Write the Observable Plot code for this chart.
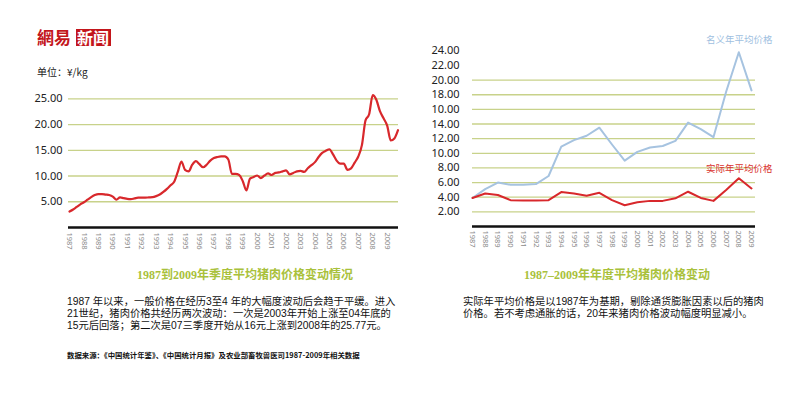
<!DOCTYPE html>
<html><head><meta charset="utf-8">
<script src="https://cdn.jsdelivr.net/npm/d3@7"></script>
<script src="https://cdn.jsdelivr.net/npm/@observablehq/plot@0.6"></script>
<style>
body{margin:0;background:#fff;}
#root{position:relative;width:800px;height:397px;overflow:hidden;background:#fff;font-family:"Noto Sans CJK SC",sans-serif;}
.abs{position:absolute;white-space:nowrap;}
svg{position:absolute;}
</style></head><body><div id="root"></div>
<script>
// ---- data ----
const yearLabels = ["1987","1988","1989","1990","1991","1992","1993","1994","1995","1996","1997","1998","1999","2000","2001","2002","2003","2004","2005","2006","2007","2008","2009"];
// quarterly average pork price, 1987Q1 .. 2009Q4 (yuan/kg)
const quarterlyPrice = [
  3.1, 3.5, 4.0, 4.5,
  4.9, 5.4, 5.9, 6.3,
  6.5, 6.5, 6.4, 6.3,
  6.0, 5.4, 5.85, 5.7,
  5.55, 5.5, 5.65, 5.8,
  5.8, 5.8, 5.85, 5.9,
  6.1, 6.4, 6.9, 7.5,
  8.2, 8.9, 10.8, 12.8,
  11.2, 10.9, 12.2, 12.9,
  12.3, 11.7, 12.2, 13.0,
  13.5, 13.7, 13.8, 13.8,
  13.2, 10.4, 10.4, 10.2,
  9.0, 7.2, 9.5, 9.8,
  10.1, 9.6, 10.1, 10.5,
  10.2, 10.6, 10.7, 10.9,
  11.1, 10.3, 10.6, 10.9,
  11.0, 10.8, 11.5, 12.1,
  12.7, 13.7, 14.5, 14.9,
  15.2, 14.2, 13.0, 12.4,
  12.4, 11.2, 11.5, 12.6,
  13.8, 16.0, 20.8, 22.0,
  25.7, 24.8, 22.6, 21.2,
  19.8, 16.9, 17.3, 18.9
];
// yearly nominal and real (1987 base) average price
const nominalPrice = [3.9, 5.1, 6.0, 5.7, 5.7, 5.8, 6.9, 10.9, 11.8, 12.4, 13.5, 11.2, 9.0, 10.2, 10.8, 11.0, 11.7, 14.2, 13.3, 12.2, 18.4, 23.8, 18.6];
const realPrice    = [3.9, 4.5, 4.3, 3.6, 3.55, 3.55, 3.6, 4.7, 4.5, 4.2, 4.6, 3.6, 2.9, 3.3, 3.5, 3.5, 3.85, 4.75, 3.9, 3.5, 5.0, 6.6, 5.2];

const leftYTicks = [5, 10, 15, 20, 25];
const leftYTickLabels = ["5.00", "10.00", "15.00", "20.00", "25.00"];
const rightYTicks = [2, 4, 6, 8, 10, 12, 14, 16, 18, 20, 22, 24];
const rightYTickLabels = ["2.00", "4.00", "6.00", "8.00", "10.00", "12.00", "14.00", "10.00", "18.00", "20.00", "22.00", "24.00"];
const rightGrid = [2, 4, 6, 8, 10, 12, 14, 16, 18, 20];

const leftTitle = "1987到2009年季度平均猪肉价格变动情况";
const rightTitle = "1987–2009年年度平均猪肉价格变动";
const leftText = ["1987 年以来，一般价格在经历3至4 年的大幅度波动后会趋于平缓。进入",
                  "21世纪，猪肉价格共经历两次波动：一次是2003年开始上涨至04年底的",
                  "15元后回落；第二次是07三季度开始从16元上涨到2008年的25.77元。"];
const rightText = ["实际年平均价格是以1987年为基期，剔除通货膨胀因素以后的猪肉",
                   "价格。若不考虑通胀的话，20年来猪肉价格波动幅度明显减小。"];
const sourceText = "数据来源：《中国统计年鉴》、《中国统计月报》及农业部畜牧兽医司1987-2009年相关数据";
const unitText = "单位：¥/kg";
const legendNominal = "名义年平均价格";
const legendReal = "实际年平均价格";

// ---- helpers ----
const root = document.getElementById("root");
function addText(txt, x, yc, css, lh) {
  const d = document.createElement("div");
  d.className = "abs";
  d.textContent = txt;
  d.style.left = x + "px";
  d.style.top = (yc - lh / 2) + "px";
  d.style.lineHeight = lh + "px";
  Object.assign(d.style, css);
  root.appendChild(d);
  return d;
}

const years = yearLabels.map(Number);
const RED = "#d8282c", BLUE = "#a6c3e0", GRID = "#c8d28a";
const numFont = "'Noto Sans', sans-serif";

// ---- left chart ----
const qData = quarterlyPrice.map((v, i) => ({t: years[0] + i / 4, v}));
const left = Plot.plot({
  width: 420, height: 260,
  marginLeft: 68, marginRight: 22, marginTop: 88, marginBottom: 33,
  style: {background: "transparent", overflow: "visible"},
  x: {domain: [1987, 2009.75], range: [69, 397.5], axis: null},
  y: {domain: [0, 27], axis: null},
  marks: [
    Plot.ruleY(leftYTicks, {stroke: GRID, strokeWidth: 1.3}),
    Plot.ruleY([0], {stroke: "#111", strokeWidth: 2.6}),
    Plot.axisY(leftYTicks, {anchor: "left", label: null, tickSize: 0, tickPadding: 6, tickFormat: d => leftYTickLabels[leftYTicks.indexOf(d)], fontSize: 11, fill: "#222", fontFamily: numFont}),
    Plot.axisX(years, {anchor: "bottom", label: null, tickSize: 0, tickPadding: 5, tickRotate: 90, tickFormat: d => yearLabels[years.indexOf(d)], fontSize: 7.5, fill: "#8a8a8a", fontFamily: numFont}),
    Plot.line(qData, {x: "t", y: "v", stroke: RED, strokeWidth: 2.2, curve: "monotone-x"})
  ]
});
left.style.left = "0px"; left.style.top = "0px";
root.appendChild(left);

// ---- right chart ----
const yData = years.map((y, i) => ({y, nominal: nominalPrice[i], real: realPrice[i]}));
const right = Plot.plot({
  width: 380, height: 260,
  marginLeft: 52, marginRight: 45, marginTop: 43, marginBottom: 34,
  style: {background: "transparent", overflow: "visible"},
  x: {domain: [1987, 2009], range: [52, 331], axis: null},
  y: {domain: [0, 25], axis: null},
  marks: [
    Plot.ruleY(rightGrid, {stroke: GRID, strokeWidth: 1.3}),
    Plot.ruleY([0], {stroke: "#111", strokeWidth: 2.6}),
    Plot.axisY(rightYTicks, {anchor: "left", label: null, tickSize: 0, tickPadding: 13, tickFormat: d => rightYTickLabels[rightYTicks.indexOf(d)], fontSize: 11, fill: "#222", fontFamily: numFont}),
    Plot.axisX(years, {anchor: "bottom", label: null, tickSize: 0, tickPadding: 4, tickRotate: 90, tickFormat: d => yearLabels[years.indexOf(d)], fontSize: 7.5, fill: "#8a8a8a", fontFamily: numFont}),
    Plot.line(yData, {x: "y", y: "nominal", stroke: BLUE, strokeWidth: 2, curve: "linear"}),
    Plot.line(yData, {x: "y", y: "real", stroke: RED, strokeWidth: 2, curve: "linear"})
  ]
});
right.style.left = "420px"; right.style.top = "0px";
root.appendChild(right);

// ---- texts ----
addText("網易", 37, 37, {fontSize: "17px", fontWeight: "700", color: "#c3161c"}, 18);
addText("新闻", 75.5, 37, {fontSize: "16px", fontWeight: "700", color: "#fff", background: "#c3161c", padding: "0 1.5px"}, 17);
addText(unitText, 37, 72, {fontSize: "10px", color: "#222"}, 12);

addText(legendNominal, 706, 38.5, {fontSize: "9.5px", color: "#9fbfdf"}, 12);
addText(legendReal, 706, 168, {fontSize: "9.5px", color: "#d9332f"}, 12);

const titleCss = {fontSize: "12px", fontWeight: "700", color: "#a9c13b", fontFamily: "'Liberation Serif','Noto Sans CJK SC',serif"};
const lt = addText(leftTitle, 0, 275, titleCss, 14);
lt.style.left = (245 - lt.offsetWidth / 2) + "px";
const rt = addText(rightTitle, 0, 275, titleCss, 14);
rt.style.left = (617 - rt.offsetWidth / 2) + "px";

// paragraphs: primary font with compact metrics, CJK glyphs fall back to Noto Sans CJK
const paraCss = {fontSize: "10.3px", color: "#111", fontFamily: "'Liberation Sans','Noto Sans CJK SC',sans-serif"};
leftText.forEach((s, i) => addText(s, 67, 301.7 + i * 12, paraCss, 12));
rightText.forEach((s, i) => addText(s, 463, 301.7 + i * 12, paraCss, 12));
addText(sourceText, 67, 354.5, {fontSize: "7.4px", fontWeight: "700", color: "#111"}, 9);
</script></body></html>
